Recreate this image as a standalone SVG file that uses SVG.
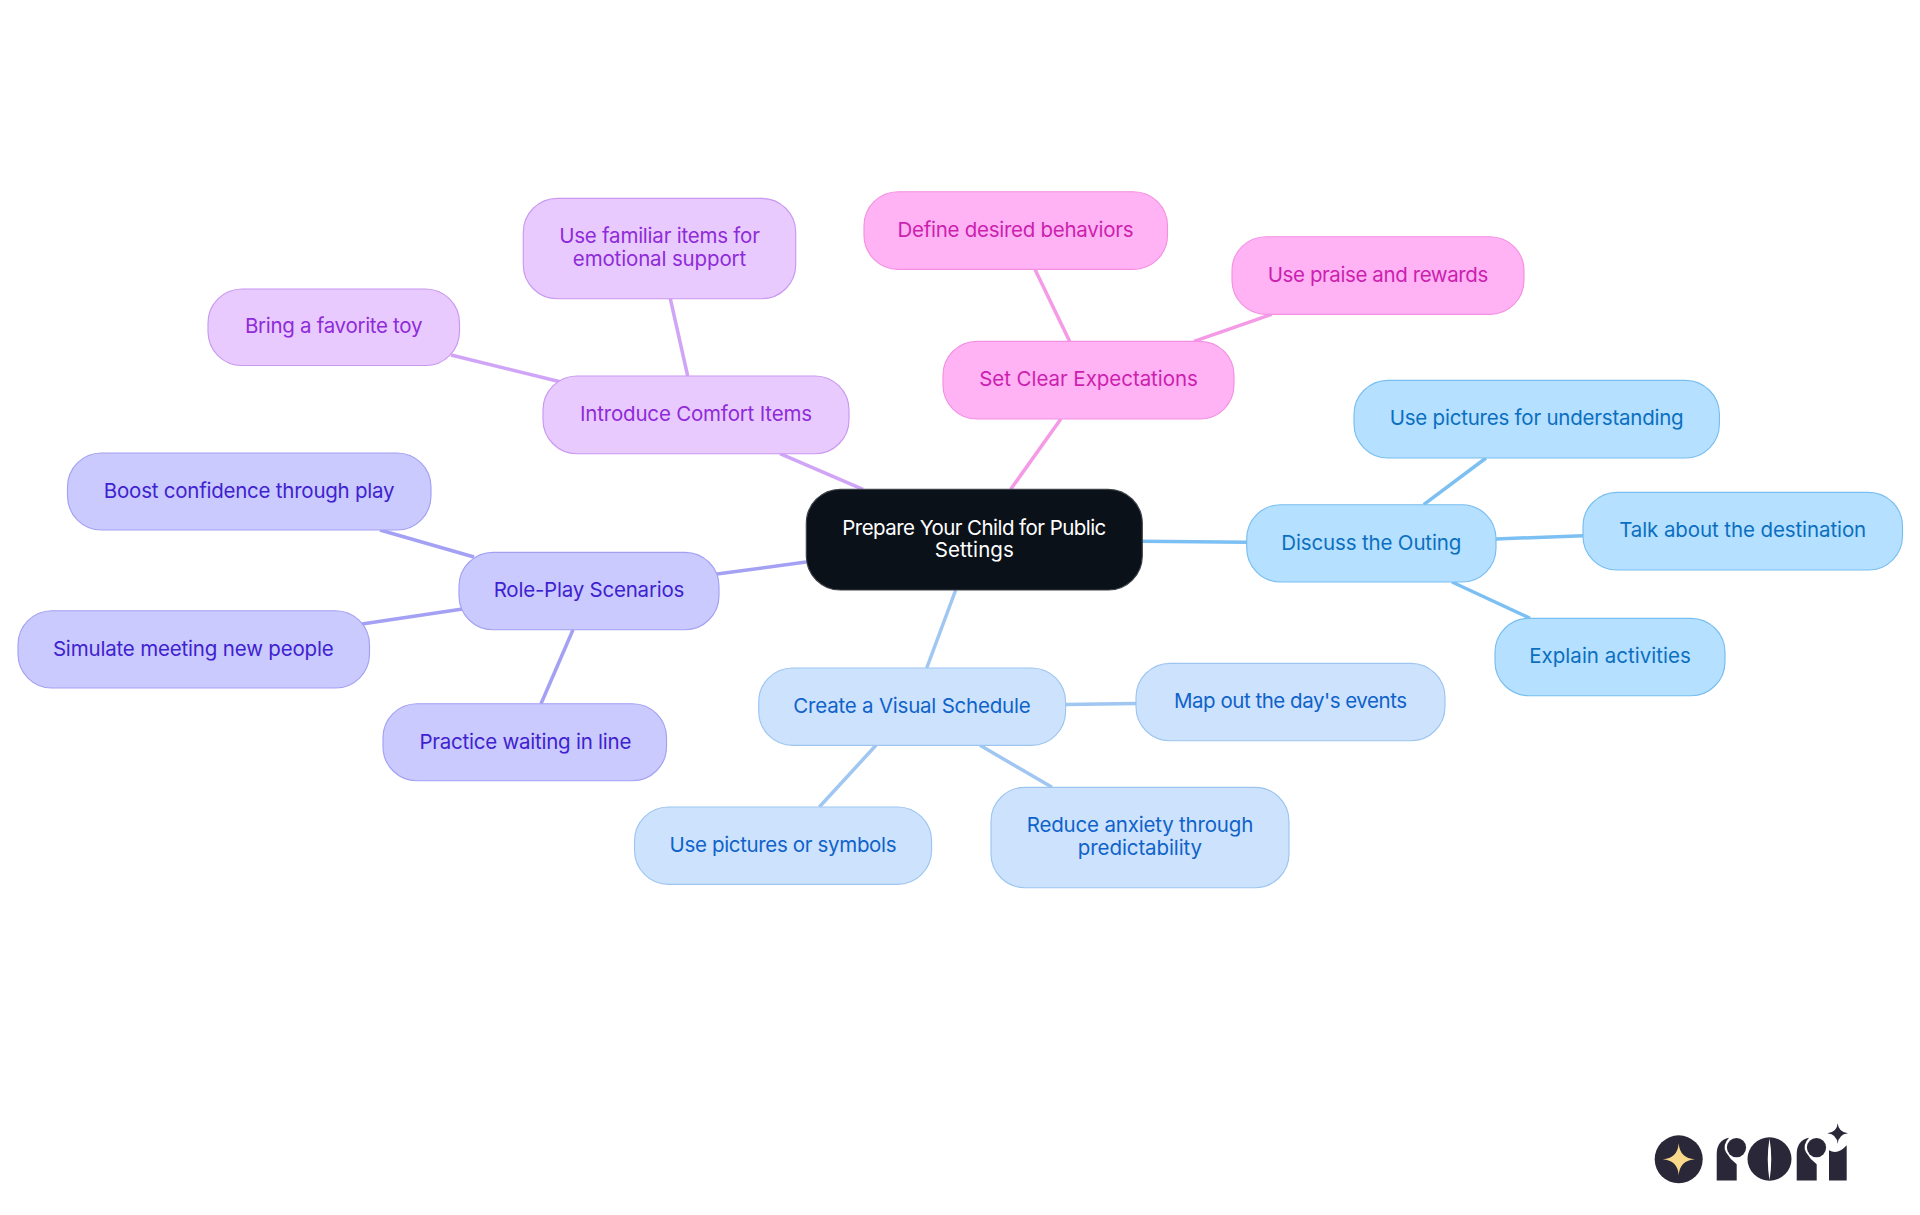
<svg xmlns="http://www.w3.org/2000/svg" width="1920" height="1215" viewBox="0 0 1920 1215">
<style>
text{font-family:Inter,"Noto Sans","Liberation Sans",sans-serif;font-size:20.5px;font-weight:400;text-anchor:middle;dominant-baseline:central;transform:translateY(-.4px)}
rect{stroke-width:1.15}
#connectors line{stroke-width:3.5;fill:none}
.root rect{fill:#0b1119;stroke:#3c4148}.root text{fill:#fff}
.a rect{fill:#e8caff;stroke:#c998f0}.a text{fill:#8f2bd8}.ac{stroke:#d0a4f7}
.b rect{fill:#ffb3f4;stroke:#f490e2}.b text{fill:#cc1fb0}.bc{stroke:#f59ae6}
.c rect{fill:#b5e0ff;stroke:#78bef0}.c text{fill:#0b6fbf}.cc{stroke:#7cc0f3}
.d rect{fill:#cde3fd;stroke:#9dc5f0}.d text{fill:#0f62c9}.dc{stroke:#a0c6f2}
.e rect{fill:#cacafe;stroke:#a3a0f3}.e text{fill:#3f22cf}.ec{stroke:#a4a1f5}
.logo{fill:#2a2838}
</style>
<g id="connectors">
<line class="ac" x1="780" y1="453.7" x2="863" y2="489.3"/>
<line class="ac" x1="670.3" y1="298.7" x2="687.7" y2="376"/>
<line class="ac" x1="451" y1="355" x2="560" y2="381.7"/>
<line class="bc" x1="1010.7" y1="489.3" x2="1060.8" y2="419"/>
<line class="bc" x1="1034.9" y1="269.3" x2="1069.6" y2="341.3"/>
<line class="bc" x1="1271.6" y1="314.3" x2="1194" y2="341.3"/>
<line class="cc" x1="1142.3" y1="541.3" x2="1247" y2="542.3"/>
<line class="cc" x1="1423.7" y1="504.7" x2="1486" y2="458"/>
<line class="cc" x1="1496" y1="539" x2="1583" y2="535.7"/>
<line class="cc" x1="1452" y1="582" x2="1530" y2="618.3"/>
<line class="dc" x1="955.7" y1="590" x2="926.7" y2="668"/>
<line class="dc" x1="1065.6" y1="704.4" x2="1136" y2="703.4"/>
<line class="dc" x1="980" y1="745.3" x2="1052" y2="787.3"/>
<line class="dc" x1="876" y1="745.3" x2="819.3" y2="807"/>
<line class="ec" x1="806" y1="562" x2="717" y2="574"/>
<line class="ec" x1="380" y1="530" x2="474" y2="557"/>
<line class="ec" x1="362" y1="624" x2="462.5" y2="609"/>
<line class="ec" x1="573" y1="629.7" x2="541" y2="703.7"/>
</g>
<g id="root" class="root"><rect x="806.3" y="489.3" width="336" height="100.7" rx="34"/><text x="974.3" y="527.5" textLength="264">Prepare Your Child for Public</text><text x="974.3" y="550" textLength="79">Settings</text></g>
<g id="comfort" class="a"><rect x="543" y="376" width="306" height="77.7" rx="34"/><text x="696" y="414" textLength="232">Introduce Comfort Items</text></g>
<g id="familiar" class="a"><rect x="523.3" y="198.3" width="272.4" height="100.4" rx="34"/><text x="659.5" y="236" textLength="200.7">Use familiar items for</text><text x="659.5" y="258.5" textLength="173.3">emotional support</text></g>
<g id="toy" class="a"><rect x="208" y="289" width="251.5" height="76.5" rx="34"/><text x="333.7" y="326" textLength="177.5">Bring a favorite toy</text></g>
<g id="expect" class="b"><rect x="943" y="341.3" width="291" height="77.7" rx="34"/><text x="1088.5" y="379" textLength="218.7">Set Clear Expectations</text></g>
<g id="define" class="b"><rect x="864" y="191.7" width="303.5" height="77.6" rx="34"/><text x="1015.5" y="229.5" textLength="236">Define desired behaviors</text></g>
<g id="praise" class="b"><rect x="1232" y="236.7" width="292" height="77.6" rx="34"/><text x="1378" y="274.5" textLength="220.5">Use praise and rewards</text></g>
<g id="outing" class="c"><rect x="1246.7" y="504.7" width="249.3" height="77.3" rx="34"/><text x="1371.3" y="543" textLength="180">Discuss the Outing</text></g>
<g id="understanding" class="c"><rect x="1354" y="380.3" width="365.4" height="77.7" rx="34"/><text x="1536.7" y="418" textLength="294">Use pictures for understanding</text></g>
<g id="destination" class="c"><rect x="1583" y="492.3" width="319.5" height="77.7" rx="34"/><text x="1742.7" y="530" textLength="247">Talk about the destination</text></g>
<g id="activities" class="c"><rect x="1495" y="618.3" width="230" height="77.4" rx="34"/><text x="1610" y="656" textLength="161.5">Explain activities</text></g>
<g id="schedule" class="d"><rect x="758.7" y="668" width="306.9" height="77.3" rx="34"/><text x="912" y="706" textLength="237.3">Create a Visual Schedule</text></g>
<g id="events" class="d"><rect x="1136" y="663.3" width="309" height="77.4" rx="34"/><text x="1290.5" y="701" textLength="233">Map out the day's events</text></g>
<g id="anxiety" class="d"><rect x="991" y="787.3" width="298" height="100.4" rx="34"/><text x="1140" y="825" textLength="226.6">Reduce anxiety through</text><text x="1140" y="847.5" textLength="124.3">predictability</text></g>
<g id="symbols" class="d"><rect x="634.5" y="807" width="297.1" height="77.3" rx="34"/><text x="783" y="845" textLength="227">Use pictures or symbols</text></g>
<g id="roleplay" class="e"><rect x="459" y="552.3" width="260" height="77.4" rx="34"/><text x="589" y="590" textLength="190.7">Role-Play Scenarios</text></g>
<g id="boost" class="e"><rect x="67.5" y="453" width="363.5" height="77" rx="34"/><text x="249.2" y="491" textLength="290.7">Boost confidence through play</text></g>
<g id="simulate" class="e"><rect x="18" y="610.7" width="351.5" height="77.3" rx="34"/><text x="193.3" y="649" textLength="280.8">Simulate meeting new people</text></g>
<g id="waiting" class="e"><rect x="383" y="703.7" width="283.5" height="77" rx="34"/><text x="525.4" y="741.5" textLength="211.9">Practice waiting in line</text></g>
<g id="logo" transform="translate(0 -0.7)">
<circle class="logo" cx="1678.7" cy="1160" r="24"/>
<path d="M1678.7 1144Q1679.8 1159 1695 1160Q1679.8 1161 1678.7 1176Q1677.6 1161 1662.7 1160Q1677.6 1159 1678.7 1144Z" fill="#fbd98a"/>
<path class="logo" d="M1716.7 1181.3V1155Q1716.7 1141 1729 1138.5Q1722 1146 1726 1153Q1730 1160 1736.7 1165V1181.3Z"/>
<circle class="logo" cx="1736.5" cy="1148.3" r="9.6"/>
<path class="logo" fill-rule="evenodd" d="M1769.5 1138A22 21.7 0 1 0 1769.5 1181.4A22 21.7 0 1 0 1769.5 1138ZM1769.5 1139Q1766 1160 1769.5 1181Q1773 1160 1769.5 1139Z"/>
<path class="logo" d="M1796.7 1181.3V1155Q1796.7 1141 1809 1138.5Q1802 1146 1806 1153Q1810 1160 1816.7 1165V1181.3Z"/>
<circle class="logo" cx="1816.5" cy="1148.3" r="9.6"/>
<path class="logo" d="M1829 1181.3V1151Q1838 1156 1846.7 1146V1181.3Z"/>
<path class="logo" d="M1837.7 1124Q1838.5 1133 1848 1134Q1838.5 1135 1837.7 1144.7Q1837 1135 1827.3 1134Q1837 1133 1837.7 1124Z"/>
</g>
</svg>
